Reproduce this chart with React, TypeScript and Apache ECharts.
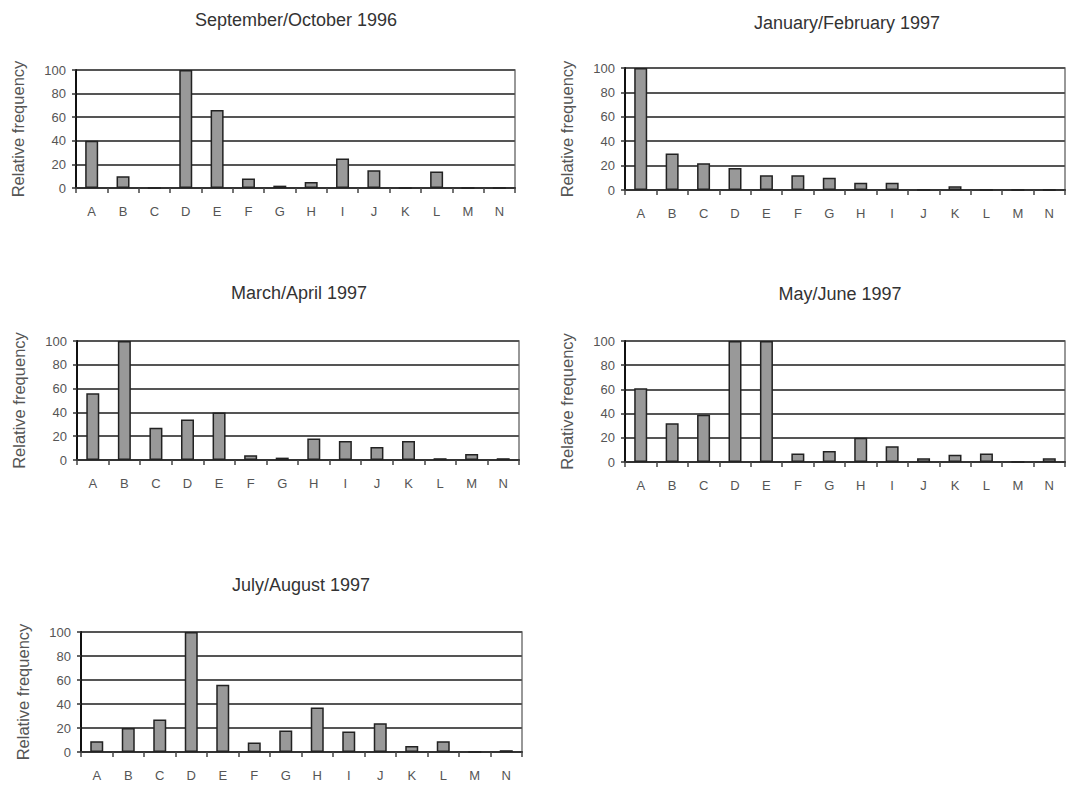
import React, { useEffect, useRef } from "react";
import * as echarts from "echarts";

const categories = ["A", "B", "C", "D", "E", "F", "G", "H", "I", "J", "K", "L", "M", "N"];
const yTicks = [0, 20, 40, 60, 80, 100];

const titles = [
  "September/October 1996",
  "January/February 1997",
  "March/April 1997",
  "May/June 1997",
  "July/August 1997",
];

const sepOct1996 = [40, 10, 0, 100, 66, 8, 2, 5, 25, 15, 0, 14, 0, 0];
const janFeb1997 = [100, 30, 22, 18, 12, 12, 10, 6, 6, 0, 3, 0, 0, 0];
const marApr1997 = [56, 100, 27, 34, 40, 4, 2, 18, 16, 11, 16, 1.5, 5, 1.5];
const mayJun1997 = [61, 32, 39, 100, 100, 7, 9, 20, 13, 3, 6, 7, 0, 3];
const julAug1997 = [9, 20, 27, 100, 56, 8, 18, 37, 17, 24, 5, 9, 0, 1.5];

const seriesData = [sepOct1996, janFeb1997, marApr1997, mayJun1997, julAug1997];

const W = 1067;
const H = 786;

// plot boxes: [left, top, right edge, bottom edge] in px
const boxes = [
  [76, 70, 515, 188],
  [625, 68, 1065, 190],
  [77, 341, 519, 460],
  [625, 341, 1065, 462],
  [81, 632, 522, 752],
];
const titlePos = [
  [291, 6],
  [842, 9],
  [294, 279],
  [835, 280],
  [296, 571],
];

const FONT = "'Liberation Sans', Arial, sans-serif";
const TXT = "#555";

export default function App() {
  const ref = useRef<HTMLDivElement>(null);
  useEffect(() => {
    if (!ref.current) return;
    const chart = echarts.init(ref.current, null, { renderer: "svg" });
    const grid: any[] = [];
    const xAxis: any[] = [];
    const yAxis: any[] = [];
    const series: any[] = [];
    const title: any[] = [];
    boxes.forEach((b, i) => {
      grid.push({
        left: b[0],
        top: b[1],
        width: b[2] - b[0],
        height: b[3] - b[1],
        show: true,
        borderColor: "#777",
        borderWidth: 1.5,
        backgroundColor: "transparent",
      });
      xAxis.push({
        type: "category",
        gridIndex: i,
        data: categories,
        boundaryGap: true,
        axisLine: { show: true, lineStyle: { color: "#333", width: 2 } },
        axisTick: { show: true, length: 5, lineStyle: { color: "#444", width: 1.5 } },
        axisLabel: { margin: 17, fontSize: 13, color: TXT, fontFamily: FONT },
      });
      yAxis.push({
        type: "value",
        gridIndex: i,
        min: 0,
        max: 100,
        interval: 20,
        name: "Relative frequency",
        nameLocation: "middle",
        nameRotate: 90,
        nameGap: 50,
        nameTextStyle: { fontSize: 16.5, color: TXT, fontFamily: FONT },
        axisLine: { show: true, lineStyle: { color: "#111", width: 2 } },
        axisTick: { show: true, length: 4, lineStyle: { color: "#333", width: 1.5 } },
        axisLabel: {
          margin: 10,
          fontSize: 13,
          color: TXT,
          fontFamily: FONT,
          formatter: (v: number) => (yTicks.includes(v) ? String(v) : ""),
        },
        splitLine: { show: true, lineStyle: { color: "#555", width: 2 } },
      });
      series.push({
        type: "bar",
        xAxisIndex: i,
        yAxisIndex: i,
        data: seriesData[i],
        barWidth: 13,
        itemStyle: { color: "#999", borderColor: "#222", borderWidth: 1.5 },
      });
      title.push({
        text: titles[i],
        left: titlePos[i][0],
        top: titlePos[i][1],
        textAlign: "center",
        textStyle: { fontSize: 18, fontWeight: "normal", color: "#333", fontFamily: FONT },
      });
    });
    chart.setOption({
      animation: false,
      backgroundColor: "#fff",
      title,
      grid,
      xAxis,
      yAxis,
      series,
    });
    return () => chart.dispose();
  }, []);
  return (
    <div
      ref={ref}
      style={{ position: "absolute", left: 0, top: 0, width: W, height: H }}
    />
  );
}
